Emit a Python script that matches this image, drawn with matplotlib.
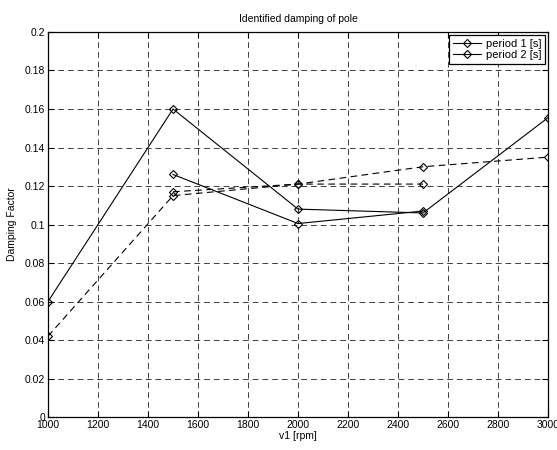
import matplotlib
matplotlib.use("Agg")
import matplotlib.pyplot as plt
from matplotlib.lines import Line2D

plt.rcParams['font.family'] = ['Liberation Sans', 'DejaVu Sans']

# speeds (sweep up, then the second pass from 1500 to 2500)
rpm_up = [1000, 1500, 2000, 2500, 3000]
rpm_back = [1500, 2000, 2500]

period1_up = [0.060, 0.160, 0.108, 0.106, 0.1555]
period2_up = [0.042, 0.115, 0.121, 0.130, 0.135]
period1_back = [0.126, 0.1005, 0.107]
period2_back = [0.117, 0.121, 0.121]

legend_labels = ['period 1 [s]', 'period 2 [s]']
xticks = list(range(1000, 3001, 200))
yticks = [0, 0.02, 0.04, 0.06, 0.08, 0.1, 0.12, 0.14, 0.16, 0.18, 0.2]
ytick_labels = ['0', '0.02', '0.04', '0.06', '0.08', '0.1', '0.12', '0.14', '0.16', '0.18', '0.2']

fig = plt.figure(figsize=(5.57, 4.5), dpi=100)
ax = fig.add_axes([0.0862, 0.0733, 0.8977, 0.8556])

dash = (0, (6, 4))
kw = dict(color='black', lw=0.8, marker='D', ms=4, mfc='none', mec='black', mew=0.8)
ax.plot(rpm_up, period1_up, ls='-', **kw)
ax.plot(rpm_up, period2_up, ls=dash, **kw)
ax.plot(rpm_back, period1_back, ls='-', **kw)
ax.plot(rpm_back, period2_back, ls=dash, **kw)

ax.set_xlim(1000, 3000)
ax.set_ylim(0, 0.2)
ax.set_xticks(xticks)
ax.set_yticks(yticks)
ax.set_yticklabels(ytick_labels)
ax.tick_params(direction='in', length=4, width=0.8, top=True, right=True,
               labelsize=7.5, pad=2)
ax.grid(True, color='black', ls=(0, (6, 4)), lw=0.7, alpha=0.75)
for s in ax.spines.values():
    s.set_linewidth(0.9)

ax.set_title('Identified damping of pole', fontsize=7.5, pad=7)
ax.set_xlabel('v1 [rpm]', fontsize=7.5, labelpad=1)
ax.set_ylabel('Damping Factor', fontsize=7.5, labelpad=6)

handles = [Line2D([], [], ls='-', **kw) for _ in legend_labels]
leg = ax.legend(handles, legend_labels, loc='upper right', fontsize=8,
                fancybox=False, framealpha=1, edgecolor='black',
                borderaxespad=0.3, handlelength=2.6, handletextpad=0.4,
                labelspacing=0.15, borderpad=0.3)
leg.get_frame().set_linewidth(0.9)

fig.savefig('out.png', dpi=100)
